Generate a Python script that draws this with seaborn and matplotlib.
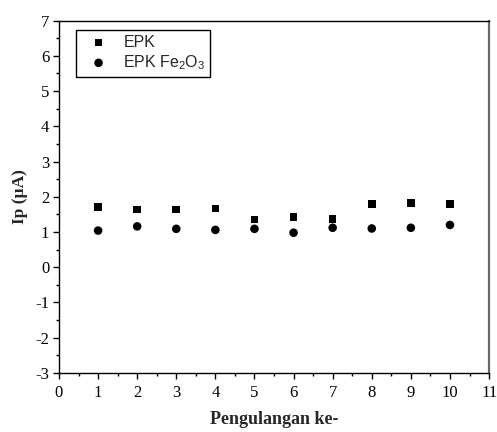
import matplotlib
matplotlib.use("Agg")
import matplotlib.pyplot as plt
from matplotlib.ticker import MultipleLocator
import pandas as pd
import seaborn as sns

# Peak current for each repeated measurement
pengulangan = [1, 2, 3, 4, 5, 6, 7, 8, 9, 10]
ip_epk = [1.71, 1.64, 1.64, 1.67, 1.36, 1.42, 1.37, 1.79, 1.83, 1.79]
ip_epk_fe2o3 = [1.04, 1.16, 1.09, 1.06, 1.09, 0.98, 1.12, 1.10, 1.12, 1.20]
series_labels = ["EPK", r"EPK Fe$_2$O$_3$"]

sns.set_theme(style="ticks")
plt.rcParams["font.family"] = ["Liberation Serif", "DejaVu Serif"]
plt.rcParams["axes.unicode_minus"] = False
plt.rcParams["mathtext.fontset"] = "custom"
plt.rcParams["mathtext.rm"] = "Liberation Sans"
plt.rcParams["mathtext.it"] = "Liberation Sans"

df_epk = pd.DataFrame({"x": pengulangan, "y": ip_epk})
df_fe = pd.DataFrame({"x": pengulangan, "y": ip_epk_fe2o3})

fig = plt.figure(figsize=(4.97, 4.32), dpi=100)
ax = fig.add_axes([0.1187, 0.1366, 0.8653, 0.8159])

sns.scatterplot(data=df_epk, x="x", y="y", marker="s", color="black",
                s=30, edgecolor="none", label=series_labels[0], ax=ax)
sns.scatterplot(data=df_fe, x="x", y="y", marker="o", color="black",
                s=38, edgecolor="none", label=series_labels[1], ax=ax)

ax.set_xlim(0, 11)
ax.set_ylim(-3, 7)
ax.xaxis.set_major_locator(MultipleLocator(1))
ax.xaxis.set_minor_locator(MultipleLocator(0.5))
ax.yaxis.set_major_locator(MultipleLocator(1))
ax.yaxis.set_minor_locator(MultipleLocator(0.5))
ax.tick_params(which="major", direction="out", length=4, width=1,
               labelsize=12, color="black", labelcolor="black", pad=3)
ax.tick_params(which="minor", direction="out", length=2.2, width=1,
               color="black")
ax.tick_params(axis="x", which="major", pad=5)
ax.tick_params(top=False, right=False, which="both")

for side in ["left", "bottom", "top"]:
    ax.spines[side].set_color("black")
    ax.spines[side].set_linewidth(1.0)
ax.spines["right"].set_color("#666666")
ax.spines["right"].set_linewidth(1.6)

ax.set_xlabel("Pengulangan ke-", fontsize=13, fontweight="bold",
              labelpad=7)
ax.set_ylabel("Ip (\u00b5A)", fontsize=12.5, fontweight="bold", labelpad=5)

leg = ax.legend(loc="upper left", bbox_to_anchor=(0.040, 0.973),
                frameon=True, fancybox=False, edgecolor="black",
                framealpha=1, borderpad=0.3, handlelength=2.2,
                handletextpad=0.45, labelspacing=0.2, borderaxespad=0,
                markerscale=1.0,
                prop={"family": "Liberation Sans", "size": 11.5})
leg.get_frame().set_linewidth(1.0)

fig.savefig("out.png", dpi=100)
